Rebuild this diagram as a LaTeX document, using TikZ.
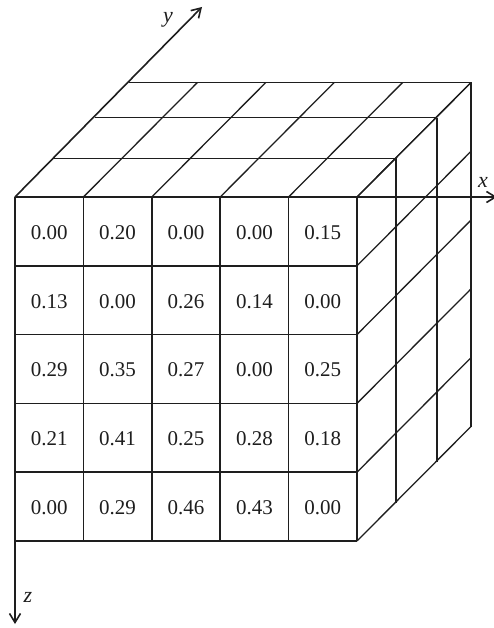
\documentclass[tikz,border=0pt]{standalone}
\usepackage{fontspec}
\setmainfont{Liberation Serif}
\usetikzlibrary{arrows.meta}
\definecolor{ink}{HTML}{1E1E1E}
\tikzset{
  gridline/.style={draw=ink, line width=1.3pt},
  frontline/.style={draw=ink, line width=1.7pt},
  axisline/.style={draw=ink, line width=1.6pt, -{Straight Barb[length=9pt,width=11pt,line width=1.6pt]}},
  val/.style={text=ink, font=\fontsize{21}{25}\selectfont, inner sep=0pt},
  axlabel/.style={text=ink, font=\fontsize{22}{26}\selectfont\itshape, inner sep=0pt}
}
\begin{document}
\begin{tikzpicture}[x=1pt,y=-1pt]
\useasboundingbox (0,0) rectangle (493,628);
\def\cw{68.4}\def\ch{68.8}
% top face
\foreach \dx/\dy in {39/-38.5, 80/-79.3, 114/-114.5}
  \draw[gridline] (15+\dx,197+\dy) -- (357+\dx,197+\dy);
\foreach \i in {1,...,5}
  \draw[gridline] (15+\i*\cw,197) -- (129+\i*\cw,82.5);
% right face
\foreach \dx/\dy in {39/-38.5, 80/-79.3, 114/-114.5}
  \draw[gridline] (357+\dx,197+\dy) -- (357+\dx,541+\dy);
\foreach \j in {0,...,5}
  \draw[gridline] (357,197+\j*\ch) -- (471,82.5+\j*\ch);
% front face
\foreach \i in {1,...,5}
  \draw[frontline] (15+\i*\cw,197) -- (15+\i*\cw,541);
\foreach \j in {1,...,5}
  \draw[frontline] (15,197+\j*\ch) -- (357,197+\j*\ch);
% axes
\coordinate (o) at (15,197);
\coordinate (xe) at (497,197);
\coordinate (ye) at (202,7);
\coordinate (ze) at (15,624);
\draw[axisline] (o) -- (xe);
\draw[axisline] (o) -- (ye);
\draw[axisline] (o) -- (ze);
\node[axlabel] (xl) at (483,182) {x};
\node[axlabel] (yl) at (168,20) {y};
\node[axlabel] (zl) at (28,597) {z};
% values
\foreach \row [count=\j from 0] in {{0.00,0.20,0.00,0.00,0.15},{0.13,0.00,0.26,0.14,0.00},{0.29,0.35,0.27,0.00,0.25},{0.21,0.41,0.25,0.28,0.18},{0.00,0.29,0.46,0.43,0.00}}
  \foreach \v [count=\i from 0] in \row
    \node[val] (c-\j-\i) at (15+\i*\cw+0.5*\cw,197+\j*\ch+0.5*\ch+1) {\v};
\end{tikzpicture}
\end{document}
